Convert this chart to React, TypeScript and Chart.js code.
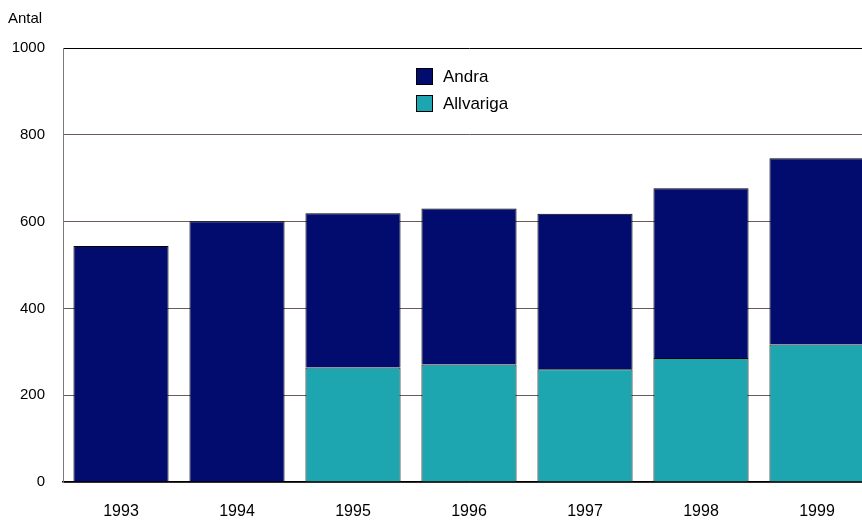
import React, { useEffect, useRef } from "react";
import { Chart, registerables } from "chart.js";

Chart.register(...registerables);

const years = ["1993", "1994", "1995", "1996", "1997", "1998", "1999"];
const allvariga = [null, null, 264, 271, 260, 286, 317];
const andra = [544, 601, 355, 359, 358, 391, 429];
const seriesNames = ["Andra", "Allvariga"];
const yTitle = "Antal";

const NAVY = "#020B6E";
const TEAL = "#1EA6B0";
const FONT = "'Liberation Sans', Arial, sans-serif";

const overlayPlugin = {
  id: "overlay",
  afterDraw(chart: any) {
    const ctx = chart.ctx;
    ctx.save();
    ctx.font = `15px ${FONT}`;
    ctx.fillStyle = "#000";
    ctx.textAlign = "left";
    ctx.textBaseline = "middle";
    ctx.fillText(yTitle, 8, 19);

    const items = [
      { label: seriesNames[0], color: NAVY },
      { label: seriesNames[1], color: TEAL },
    ];
    ctx.font = `17px ${FONT}`;
    items.forEach((it, i) => {
      const y = 68 + i * 27;
      ctx.fillStyle = it.color;
      ctx.fillRect(416, y, 17, 17);
      ctx.strokeStyle = "#000";
      ctx.lineWidth = 1;
      ctx.strokeRect(416.5, y + 0.5, 16, 16);
      ctx.fillStyle = "#000";
      ctx.fillText(it.label, 443, y + 9);
    });
    ctx.restore();
  },
};

export default function App() {
  const ref = useRef<HTMLCanvasElement>(null);
  useEffect(() => {
    if (!ref.current) return;
    const chart = new Chart(ref.current, {
      type: "bar",
      data: {
        labels: years,
        datasets: [
          {
            label: seriesNames[1],
            data: allvariga,
            backgroundColor: TEAL,
            borderColor: "#000",
            borderWidth: 1,
            barPercentage: 0.82,
            categoryPercentage: 1,
          },
          {
            label: seriesNames[0],
            data: andra,
            backgroundColor: NAVY,
            borderColor: "#000",
            borderWidth: 1,
            barPercentage: 0.82,
            categoryPercentage: 1,
          },
        ],
      },
      options: {
        responsive: false,
        animation: false,
        layout: { padding: { top: 48, right: 0, bottom: 0, left: 0 } },
        plugins: {
          legend: { display: false },
          tooltip: { enabled: false },
        },
        scales: {
          x: {
            stacked: true,
            offset: true,
            grid: { display: false, drawTicks: false },
            border: { display: true, color: "#000", width: 1.5 },
            ticks: {
              color: "#000",
              font: { family: FONT, size: 16 },
              padding: 20,
            },
            afterFit(scale: any) {
              scale.height = 39;
            },
          },
          y: {
            stacked: true,
            min: 0,
            max: 1000,
            ticks: {
              stepSize: 200,
              color: "#000",
              font: { family: FONT, size: 15 },
              padding: 18,
              callback: (v: any) => String(v),
            },
            grid: {
              drawTicks: false,
              color: (c: any) =>
                c.tick && c.tick.value === 1000 ? "#000" : "#6b5a55",
              lineWidth: 1,
            },
            border: { display: true, color: "#7a7a7a", width: 1 },
            afterFit(scale: any) {
              scale.width = 63;
            },
          },
        },
      },
      plugins: [overlayPlugin],
    });
    return () => chart.destroy();
  }, []);

  return (
    <div
      style={{
        position: "fixed",
        left: 0,
        top: 0,
        width: 862,
        height: 521,
        overflow: "hidden",
        background: "#fff",
      }}
    >
      <canvas ref={ref} width={875} height={521} style={{ width: 875, height: 521, display: "block" }} />
    </div>
  );
}
